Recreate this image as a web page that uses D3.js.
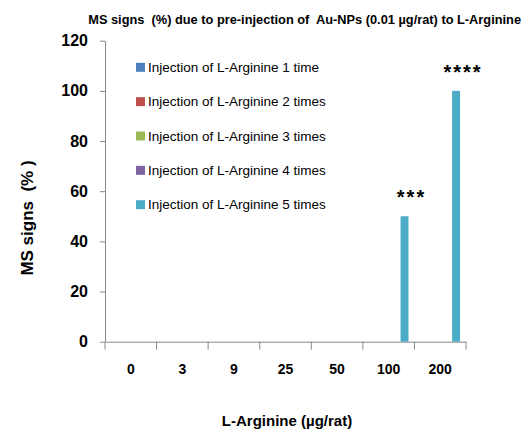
<!DOCTYPE html>
<html><head><meta charset="utf-8">
<script src="https://cdn.jsdelivr.net/npm/d3@7"></script>
<style>
body{margin:0;background:#fff;}
text{font-family:"Liberation Sans Narrow","Liberation Sans",Arial,sans-serif;white-space:pre;}
</style></head>
<body><svg id="c" width="529" height="430"></svg>
<script>
const categories = ["0","3","9","25","50","100","200"];
const seriesNames = ["Injection of L-Arginine 1 time","Injection of L-Arginine 2 times","Injection of L-Arginine 3 times","Injection of L-Arginine 4 times","Injection of L-Arginine 5 times"];
const series1 = [0,0,0,0,0,0,0];
const series2 = [0,0,0,0,0,0,0];
const series3 = [0,0,0,0,0,0,0];
const series4 = [0,0,0,0,0,0,0];
const series5 = [0,0,0,0,0,50,100];
const significance = ["","","","","","***","****"];
const yTicks = [0,20,40,60,80,100,120];
const colors = ["#4F81BD","#C0504D","#9BBB59","#8064A2","#4BACC6"];

(function(){
const allSeries = [series1,series2,series3,series4,series5];
const svg = d3.select("#c");
const pL=105, pR=466, pT=40.7, pB=341.7;
const x0 = d3.scaleBand().domain(categories).range([pL,pR]).paddingInner(0).paddingOuter(0);
const x1 = d3.scaleBand().domain(d3.range(5)).range([0,x0.bandwidth()]).paddingInner(0).paddingOuter(0.75);
const y = d3.scaleLinear().domain([0,120]).range([pB,pT]);

const yAxis = svg.append("g").attr("transform",`translate(${pL},0)`)
  .call(d3.axisLeft(y).tickValues(yTicks).tickSize(5).tickSizeOuter(0).tickPadding(12));
yAxis.select(".domain").attr("stroke","#888");
yAxis.selectAll(".tick line").attr("stroke","#888");
yAxis.selectAll(".tick text").attr("font-size",16).attr("font-weight","bold").attr("fill","#000");

const xAxis = svg.append("g").attr("transform",`translate(0,${pB})`)
  .call(d3.axisBottom(x0).tickSize(0).tickSizeOuter(0).tickPadding(22));
xAxis.select(".domain").attr("stroke","#888");
xAxis.selectAll(".tick text").attr("font-size",14).attr("font-weight","bold").attr("fill","#000");
const bounds = categories.map(c=>x0(c)).concat([pR]);
svg.append("g").selectAll("line").data(bounds).join("line")
  .attr("x1",d=>d).attr("x2",d=>d).attr("y1",pB).attr("y2",pB+8)
  .attr("stroke","#888");

allSeries.forEach((s,si)=>{
  svg.append("g").selectAll("rect").data(s.map((v,i)=>({v,c:categories[i]}))).join("rect")
    .attr("x",d=>x0(d.c)+x1(si)).attr("width",x1.bandwidth())
    .attr("y",d=>y(d.v)).attr("height",d=>pB-y(d.v))
    .attr("fill",colors[si]);
});
svg.append("g").selectAll("text").data(series5.map((v,i)=>({v,c:categories[i],t:significance[i]})).filter(d=>d.t))
  .join("text")
  .attr("x",d=>x0(d.c)+x1(4)+x1.bandwidth()/2+7).attr("y",d=>y(d.v)-12)
  .attr("text-anchor","middle").attr("font-size",20).attr("font-weight","bold").attr("fill","#000")
  .attr("letter-spacing",2)
  .text(d=>d.t);

const lg = svg.append("g");
seriesNames.forEach((n,i)=>{
  const cy = 67.3 + i*34.35;
  lg.append("rect").attr("x",136).attr("y",cy-4.5).attr("width",9).attr("height",9).attr("fill",colors[i]);
  lg.append("text").attr("x",148).attr("y",cy).attr("dy","0.35em").attr("font-size",13.5).attr("fill","#000").text(n);
});

svg.append("text").attr("x",521).attr("y",20).attr("dy","0.35em").attr("text-anchor","end")
  .attr("font-size",12.8).attr("font-weight","bold").attr("fill","#000")
  .text("MS signs  (%) due to pre-injection of  Au-NPs (0.01 µg/rat) to L-Arginine");
svg.append("text").attr("transform","translate(27,218) rotate(-90)").attr("dy","0.35em").attr("text-anchor","middle")
  .attr("font-size",17).attr("font-weight","bold").attr("fill","#000").text("MS signs  (% )");
svg.append("text").attr("x",287).attr("y",421).attr("dy","0.35em").attr("text-anchor","middle")
  .attr("font-size",15).attr("font-weight","bold").attr("fill","#000").text("L-Arginine (µg/rat)");
})();
</script></body></html>
